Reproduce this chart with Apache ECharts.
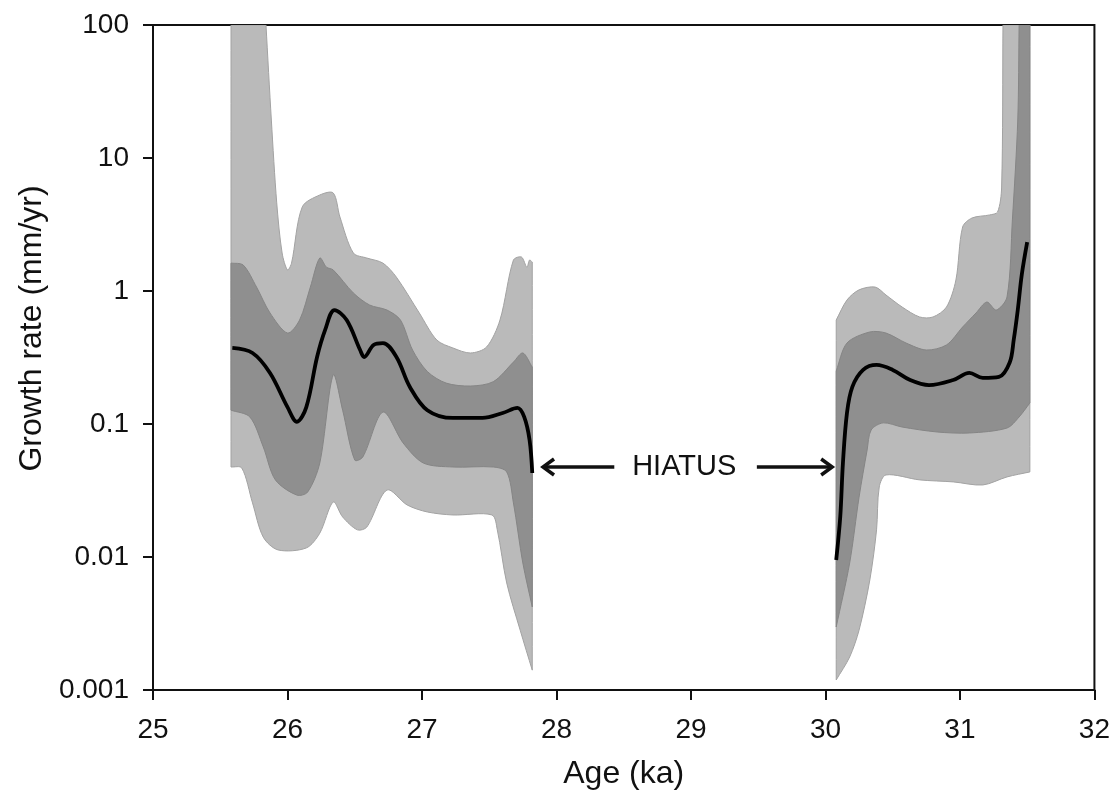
<!DOCTYPE html>
<html>
<head>
<meta charset="utf-8">
<title>Growth rate</title>
<script src="https://cdn.jsdelivr.net/npm/echarts@6/dist/echarts.min.js"></script>
<style>
  html, body { margin: 0; padding: 0; background: #fff; }
  #chart { width: 1113px; height: 800px; }
</style>
</head>
<body>
<div id="chart"></div>
<script>
// ---- data: [age (ka), growth rate (mm/yr)] ----
// left part (before the hiatus)
const leftOuterHi = [[25.58, 100], [25.84, 100], [25.88, 19.3], [25.92, 4.6], [25.96, 1.93], [26.0, 1.44], [26.03, 1.62],
  [26.11, 4.29], [26.24, 5.27], [26.34, 5.46], [26.39, 3.6], [26.49, 1.93], [26.59, 1.77], [26.71, 1.62], [26.81, 1.27],
  [26.98, 0.684], [27.11, 0.428], [27.23, 0.373], [27.36, 0.342], [27.48, 0.379], [27.58, 0.605], [27.68, 1.71],
  [27.74, 1.8], [27.78, 1.51], [27.8, 1.71], [27.82, 1.65]]
const leftOuterLo = [[25.58, 0.0475], [25.66, 0.0467], [25.74, 0.0255], [25.82, 0.0141], [25.93, 0.0113], [26.14, 0.0117],
  [26.24, 0.0151], [26.34, 0.0259], [26.41, 0.02], [26.52, 0.016], [26.59, 0.0168], [26.74, 0.0319], [26.89, 0.0246],
  [27.04, 0.0218], [27.23, 0.0207], [27.52, 0.0207], [27.56, 0.016], [27.63, 0.00638], [27.73, 0.00282], [27.82, 0.00141]]
const leftInnerHi = [[25.58, 1.62], [25.67, 1.57], [25.77, 1.07], [25.87, 0.684], [26.0, 0.483], [26.09, 0.605], [26.17, 1.07],
  [26.24, 1.77], [26.29, 1.51], [26.34, 1.44], [26.49, 0.966], [26.61, 0.785], [26.74, 0.719], [26.84, 0.605], [26.93, 0.36],
  [27.04, 0.248], [27.18, 0.203], [27.36, 0.193], [27.53, 0.208], [27.68, 0.292], [27.75, 0.342], [27.82, 0.268]]
const leftInnerLo = [[25.58, 0.127], [25.72, 0.113], [25.82, 0.0672], [25.91, 0.038], [26.07, 0.0292], [26.15, 0.0308],
  [26.24, 0.0509], [26.34, 0.234], [26.41, 0.127], [26.5, 0.0536], [26.56, 0.0565], [26.71, 0.123], [26.86, 0.072],
  [27.01, 0.0509], [27.23, 0.0475], [27.53, 0.0475], [27.63, 0.0436], [27.68, 0.0255], [27.75, 0.00901], [27.82, 0.00421]]
const leftMedian = [[25.59, 0.373], [25.74, 0.342], [25.87, 0.242], [26.0, 0.134], [26.07, 0.104], [26.14, 0.134],
  [26.22, 0.319], [26.28, 0.51], [26.35, 0.719], [26.44, 0.605], [26.54, 0.36], [26.57, 0.319], [26.64, 0.393],
  [26.71, 0.406], [26.81, 0.319], [26.91, 0.19], [27.04, 0.127], [27.23, 0.111], [27.45, 0.111], [27.6, 0.121],
  [27.71, 0.132], [27.76, 0.113], [27.8, 0.0758], [27.82, 0.0428]]

// right part (after the hiatus)
const rightOuterHi = [[30.08, 0.605], [30.16, 0.855], [30.25, 1.02], [30.37, 1.07], [30.45, 0.933], [30.57, 0.758],
  [30.7, 0.638], [30.8, 0.638], [30.9, 0.758], [30.97, 1.21], [31.02, 3.03], [31.09, 3.54], [31.22, 3.73], [31.28, 3.93],
  [31.31, 6.05], [31.32, 100], [31.52, 100]]
const rightOuterLo = [[30.08, 0.00119], [30.18, 0.00177], [30.25, 0.00282], [30.33, 0.00672], [30.38, 0.016], [30.4, 0.0336],
  [30.45, 0.0414], [30.7, 0.038], [30.95, 0.0367], [31.17, 0.0348], [31.35, 0.04], [31.52, 0.0436]]
const rightInnerHi = [[30.08, 0.25], [30.16, 0.406], [30.33, 0.492], [30.45, 0.483], [30.6, 0.406], [30.75, 0.36],
  [30.9, 0.393], [31.02, 0.536], [31.12, 0.684], [31.2, 0.826], [31.27, 0.719], [31.35, 0.901], [31.39, 3.42],
  [31.43, 19.3], [31.44, 100], [31.52, 100]]
const rightInnerLo = [[30.08, 0.00298], [30.18, 0.00901], [30.25, 0.0282], [30.31, 0.0638], [30.34, 0.0902], [30.43, 0.102],
  [30.57, 0.0949], [30.83, 0.0871], [31.07, 0.0856], [31.35, 0.0933], [31.44, 0.113], [31.52, 0.144]]
const rightMedian = [[30.08, 0.00949], [30.11, 0.02], [30.13, 0.0509], [30.16, 0.121], [30.2, 0.19], [30.28, 0.255],
  [30.38, 0.278], [30.5, 0.255], [30.63, 0.214], [30.77, 0.196], [30.95, 0.214], [31.07, 0.242], [31.17, 0.222],
  [31.29, 0.226], [31.37, 0.29], [31.4, 0.43], [31.43, 0.72], [31.46, 1.33], [31.5, 2.33]]

// hiatus annotation: [tail age, tip age, rate]
const hiatusArrows = [[28.43, 27.9, 0.0475], [29.49, 30.05, 0.0475]]
const hiatusLabel = [[28.95, 0.0475]]

const xTicks = [25, 26, 27, 28, 29, 30, 31, 32]
const yTickLabels = ['0.001', '0.01', '0.1', '1', '10', '100']

const FONT = '"Liberation Sans", Arial, Helvetica, sans-serif'
const TXT = '#111'
const LIGHT = '#bababa'
const DARK = '#8f8f8f'

// filled band between an upper and a lower curve.
// corners (ends, points on the top edge) are doubled so the smoothing keeps the edges straight
const band = (name, hi, lo, fill, stroke) => {
  const pts = hi.concat(lo.slice().reverse())
  const isCorner = (p, i, arr) => i === 0 || i === arr.length - 1 || p[1] >= 100
  return {
    name,
    type: 'custom',
    clip: true,
    silent: true,
    data: pts,
    encode: {x: 0, y: 1},
    renderItem: (params, api) => {
      if (params.dataIndex !== 0) return null
      const out = []
      const add = arr => arr.forEach((p, i) => {
        const c = api.coord(p)
        out.push(c)
        if (isCorner(p, i, arr)) out.push(c.slice())
      })
      add(hi)
      add(lo.slice().reverse())
      return {
        type: 'polygon',
        shape: {points: out, smooth: 0.3},
        style: {fill, stroke, lineWidth: 1}
      }
    }
  }
}

const median = (name, data) => ({
  name,
  type: 'line',
  data,
  smooth: 0.35,
  showSymbol: false,
  silent: true,
  lineStyle: {color: '#000', width: 3.8}
})

const chart = echarts.init(document.getElementById('chart'))
chart.setOption({
  animation: false,
  grid: {
    left: 153, right: 18, top: 25, bottom: 110,
    show: true, borderColor: '#111', borderWidth: 2, backgroundColor: 'transparent'
  },
  xAxis: {
    type: 'value',
    min: xTicks[0],
    max: xTicks[xTicks.length - 1],
    interval: 1,
    name: 'Age (ka)',
    nameLocation: 'middle',
    nameGap: 68,
    nameTextStyle: {fontSize: 32, color: TXT, fontFamily: FONT},
    axisLine: {lineStyle: {color: '#111', width: 2}},
    axisTick: {inside: false, length: 10, lineStyle: {color: '#111', width: 2}},
    axisLabel: {fontSize: 28, color: TXT, fontFamily: FONT, margin: 26},
    splitLine: {show: false}
  },
  yAxis: {
    type: 'log',
    logBase: 10,
    min: 0.001,
    max: 100,
    name: 'Growth rate (mm/yr)',
    nameLocation: 'middle',
    nameGap: 100,
    nameTextStyle: {fontSize: 32, color: TXT, fontFamily: FONT, padding: [0, 0, 0, 58]},
    axisLine: {lineStyle: {color: '#111', width: 2}},
    axisTick: {inside: false, length: 10, lineStyle: {color: '#111', width: 2}},
    axisLabel: {
      fontSize: 28, color: TXT, fontFamily: FONT, margin: 24,
      formatter: v => yTickLabels[Math.round(Math.log10(v)) + 3]
    },
    splitLine: {show: false}
  },
  series: [
    band('left outer', leftOuterHi, leftOuterLo, LIGHT, '#a2a2a2'),
    band('right outer', rightOuterHi, rightOuterLo, LIGHT, '#a2a2a2'),
    band('left inner', leftInnerHi, leftInnerLo, DARK, '#858585'),
    band('right inner', rightInnerHi, rightInnerLo, DARK, '#858585'),
    median('left median', leftMedian),
    median('right median', rightMedian),
    {
      name: 'hiatus arrows',
      type: 'custom',
      silent: true,
      data: hiatusArrows,
      encode: {x: [0, 1], y: 2},
      renderItem: (params, api) => {
        const tail = api.coord([api.value(0), api.value(2)])
        const tip = api.coord([api.value(1), api.value(2)])
        const dir = tip[0] > tail[0] ? 1 : -1
        const head = 11
        return {
          type: 'group',
          children: [
            {type: 'line', shape: {x1: tail[0], y1: tail[1], x2: tip[0] - dir * 2, y2: tip[1]},
              style: {stroke: '#111', lineWidth: 3.5}},
            {type: 'polyline',
              shape: {points: [[tip[0] - dir * head, tip[1] - 8], [tip[0], tip[1]], [tip[0] - dir * head, tip[1] + 8]]},
              style: {stroke: '#111', lineWidth: 3.5, fill: null}}
          ]
        }
      }
    },
    {
      name: 'hiatus',
      type: 'custom',
      silent: true,
      data: hiatusLabel,
      encode: {x: 0, y: 1},
      renderItem: (params, api) => {
        const p = api.coord([api.value(0), api.value(1)])
        return {
          type: 'text',
          x: p[0], y: p[1],
          style: {
            text: 'HIATUS', fill: TXT, fontSize: 29, fontFamily: FONT,
            align: 'center', verticalAlign: 'middle'
          }
        }
      }
    }
  ]
})
</script>
</body>
</html>
